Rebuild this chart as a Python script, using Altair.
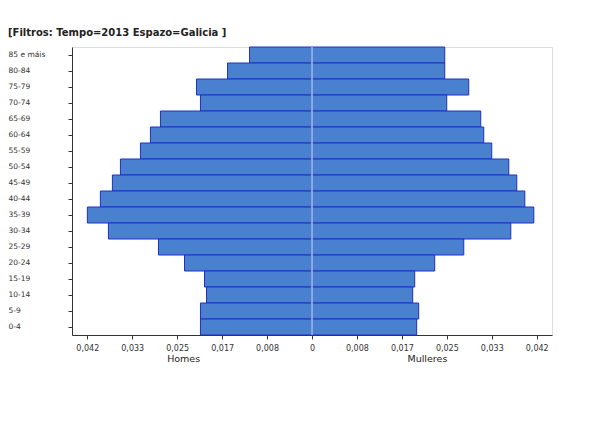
import altair as alt
import pandas as pd

ages = ["85 e máis", "80-84", "75-79", "70-74", "65-69", "60-64", "55-59", "50-54",
        "45-49", "40-44", "35-39", "30-34", "25-29", "20-24", "15-19", "10-14", "5-9", "0-4"]
homes = [0.01158, 0.01566, 0.02142, 0.02068, 0.02810, 0.02996, 0.03181, 0.03552,
         0.03701, 0.03924, 0.04165, 0.03775, 0.02847, 0.02364, 0.01993, 0.01956, 0.02068, 0.02068]
mulleres = [0.02461, 0.02461, 0.02906, 0.02498, 0.03129, 0.03185, 0.03333, 0.03649,
            0.03797, 0.03946, 0.04113, 0.03686, 0.02814, 0.02275, 0.01904, 0.01867, 0.01978, 0.01941]
tick_values = [-5/120, -4/120, -3/120, -2/120, -1/120, 0, 1/120, 2/120, 3/120, 4/120, 5/120]
side_labels = ["Homes", "Mulleres"]
side_pos = [-0.0238, 0.0214]
title_text = "[Filtros: Tempo=2013 Espazo=Galicia ]"

W, H = 480, 288

rows = []
for a, h, m in zip(ages, homes, mulleres):
    rows.append({"age": a, "x0": -h, "x1": 0.0})
    rows.append({"age": a, "x0": 0.0, "x1": m})
df = pd.DataFrame(rows)

xscale = alt.Scale(domain=[-0.0445, 0.0445], nice=False, zero=False)

bars = alt.Chart(df).mark_bar(
    fill="#4a80d0", stroke="#1f30c0", strokeWidth=1, opacity=1
).encode(
    x=alt.X("x0:Q", scale=xscale,
            axis=alt.Axis(values=tick_values, title=None, grid=False,
                          labelExpr="datum.value == 0 ? '0' : replace(format(abs(datum.value), '.3f'), '.', ',')",
                          labelFont="DejaVu Sans", labelFontSize=8, labelColor="#333",
                          tickColor="#333", domainColor="#333", tickSize=4, labelPadding=5)),
    x2="x1:Q",
    y=alt.Y("age:N", sort=ages,
            scale=alt.Scale(paddingInner=0, paddingOuter=0),
            axis=alt.Axis(title=None, labelAlign="left", labelPadding=60, tickSize=4,
                          labelFont="DejaVu Sans", labelFontSize=7.5, labelColor="#333",
                          tickColor="#333", domainColor="#333")),
)

center = alt.Chart(pd.DataFrame({"v": [0.0]})).mark_rule(
    color="#cfe0f2", strokeWidth=1.2
).encode(x=alt.X("v:Q", scale=xscale))

side = alt.Chart(pd.DataFrame({"lab": side_labels, "pos": side_pos})).mark_text(
    font="DejaVu Sans", fontSize=9.5, color="#222", baseline="middle", align="center"
).encode(
    x=alt.X("pos:Q", scale=xscale),
    y=alt.value(H + 24),
    text="lab:N",
)

title = alt.Chart(pd.DataFrame({"t": [title_text]})).mark_text(
    font="DejaVu Sans", fontSize=10, fontWeight="bold", color="#222", align="left", baseline="alphabetic"
).encode(
    x=alt.value(-64),
    y=alt.value(-11),
    text="t:N",
)

chart = alt.layer(bars, center, side, title).properties(
    width=W, height=H,
    padding={"left": 64, "top": 39, "right": 31, "bottom": 80},
    autosize=alt.AutoSizeParams(type="none"),
).configure_view(stroke="#333", strokeWidth=1).configure(background="white")

chart.save("out.html", embed_options={"renderer": "svg", "actions": False})
